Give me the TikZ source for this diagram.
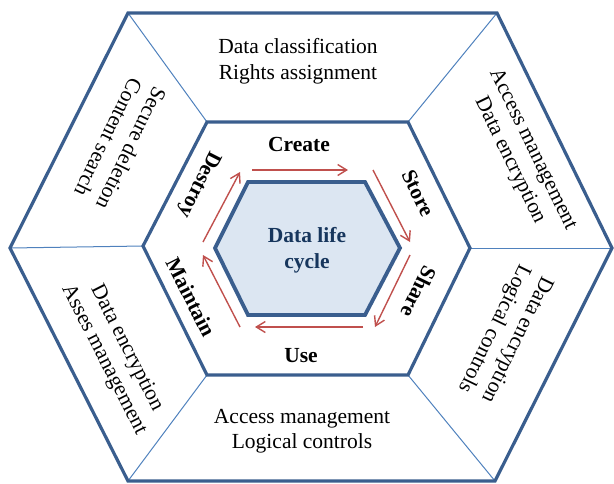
\documentclass[tikz,border=0pt]{standalone}
\usepackage{fontspec}
\setmainfont{Liberation Serif}
\usetikzlibrary{arrows.meta}
\definecolor{hexline}{HTML}{3A5E8E}
\definecolor{thinline}{HTML}{4F81BD}
\definecolor{hexfill}{HTML}{DCE6F2}
\definecolor{arrowred}{HTML}{C0504D}
\definecolor{navy}{HTML}{17365D}
\begin{document}
\begin{tikzpicture}[x=1pt,y=-1pt,
  thickhex/.style={draw=hexline,line width=3.2pt,line join=miter},
  innerhex/.style={draw=hexline,fill=hexfill,line width=3.8pt,line join=miter},
  spoke/.style={draw=thinline,line width=1pt},
  cyclearrow/.style={draw=arrowred,line width=1.4pt,-{Straight Barb[length=9pt,width=11pt,line width=1.4pt]}},
  stagelabel/.style={font=\fontsize{21.5}{25}\selectfont\bfseries,inner sep=0pt},
  outerlabel/.style={font=\fontsize{21.5}{25.5}\selectfont,align=center,inner sep=0pt},
  centerlabel/.style={font=\fontsize{21.5}{25.5}\selectfont\bfseries,text=navy,align=center,inner sep=0pt}]
\useasboundingbox (0,0) rectangle (614,483);
% outer hexagon
\coordinate (O1) at (128,13);
\coordinate (O2) at (497,13);
\coordinate (O3) at (612,248);
\coordinate (O4) at (495,481);
\coordinate (O5) at (128,481);
\coordinate (O6) at (10,248);
% middle hexagon
\coordinate (M1) at (207,122);
\coordinate (M2) at (408,122);
\coordinate (M3) at (470,248);
\coordinate (M4) at (408,375);
\coordinate (M5) at (207,375);
\coordinate (M6) at (143,246);
% inner hexagon
\coordinate (I1) at (248,182);
\coordinate (I2) at (365,182);
\coordinate (I3) at (400,248);
\coordinate (I4) at (365,315);
\coordinate (I5) at (248,315);
\coordinate (I6) at (215,248);
% spokes
\draw[spoke] (O1) -- (M1);
\draw[spoke] (O2) -- (M2);
\draw[spoke] (O3) -- (M3);
\draw[spoke] (O4) -- (M4);
\draw[spoke] (O5) -- (M5);
\draw[spoke] (O6) -- (M6);
% hexagons
\draw[thickhex] (O1) -- (O2) -- (O3) -- (O4) -- (O5) -- (O6) -- cycle;
\draw[thickhex] (M1) -- (M2) -- (M3) -- (M4) -- (M5) -- (M6) -- cycle;
\draw[innerhex] (I1) -- (I2) -- (I3) -- (I4) -- (I5) -- (I6) -- cycle;
% arrow end points
\coordinate (A1s) at (252,170); \coordinate (A1e) at (348,170);
\coordinate (A2s) at (373,170); \coordinate (A2e) at (410,242);
\coordinate (A3s) at (410,255); \coordinate (A3e) at (375,327);
\coordinate (A4s) at (363,327); \coordinate (A4e) at (255,327);
\coordinate (A5s) at (240,327); \coordinate (A5e) at (203,255);
\coordinate (A6s) at (203,242); \coordinate (A6e) at (240,172);
\draw[cyclearrow] (A1s) -- (A1e);
\draw[cyclearrow] (A2s) -- (A2e);
\draw[cyclearrow] (A3s) -- (A3e);
\draw[cyclearrow] (A4s) -- (A4e);
\draw[cyclearrow] (A5s) -- (A5e);
\draw[cyclearrow] (A6s) -- (A6e);
% centre
\node[centerlabel] (centre) at (307,250) {Data life\\cycle};
% stage labels
\node[stagelabel] (create) at (299,144) {Create};
\node[stagelabel,rotate=-64] (store) at (418,193) {Store};
\node[stagelabel,rotate=-116] (share) at (419,292) {Share};
\node[stagelabel] (use) at (301,356) {Use};
\node[stagelabel,rotate=-63] (maintain) at (191,297) {Maintain};
\node[stagelabel,rotate=-117] (destroy) at (199,184) {Destroy};
% outer labels
\node[outerlabel] (top) at (298,61) {Data classification\\Rights assignment};
\node[outerlabel,rotate=-64] (topright) at (521,155) {Access management\\Data encryption};
\node[outerlabel,rotate=-116] (bottomright) at (505,334) {Data encryption\\Logical controls};
\node[outerlabel] (bottom) at (302,431) {Access management\\Logical controls};
\node[outerlabel,rotate=-63] (bottomleft) at (115,354) {Data encryption\\Asses management};
\node[outerlabel,rotate=-116] (topleft) at (120,143) {Secure deletion\\Content search};
\end{tikzpicture}
\end{document}
